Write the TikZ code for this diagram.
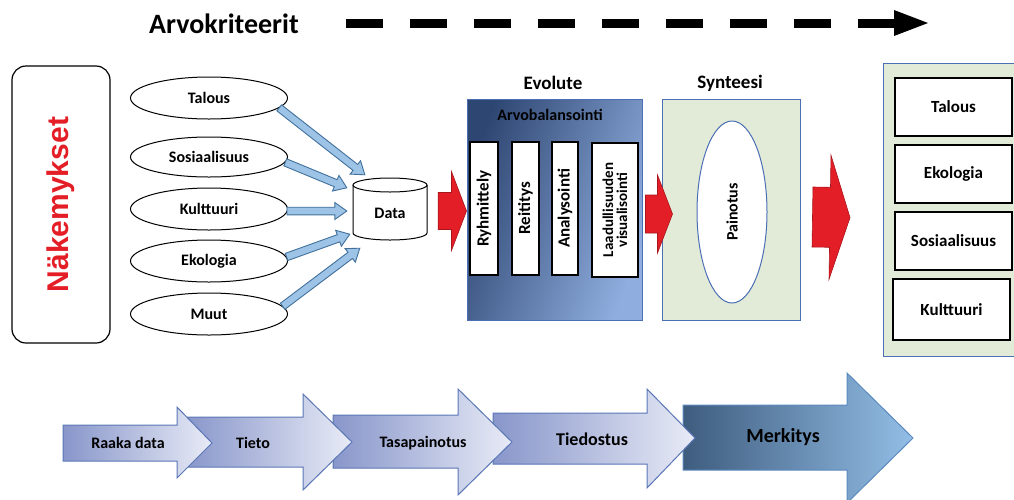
\documentclass[tikz,border=0pt]{standalone}
\usepackage{fontspec}
\setmainfont{Carlito}
\newfontfamily\arialfam{Liberation Sans}
\usetikzlibrary{shapes.geometric,calc,arrows.meta}
\definecolor{redc}{HTML}{E41E26}
\definecolor{redd}{HTML}{A8151B}
\definecolor{lblue}{HTML}{9DC3E6}
\definecolor{dblue}{HTML}{41719C}
\definecolor{frame}{HTML}{4A6FB5}
\definecolor{lgreen}{HTML}{E2EBD7}
\definecolor{evodark}{HTML}{2E4672}
\definecolor{evolight}{HTML}{8FAEDF}
\definecolor{chl}{HTML}{8896CA}
\definecolor{chr}{HTML}{E8EBF6}
\definecolor{chb}{HTML}{5A76B5}
\definecolor{mkl}{HTML}{3E5C7E}
\definecolor{mkr}{HTML}{93BEE6}
\definecolor{mkb}{HTML}{5B8AC0}
\newcommand{\fsz}[1]{\fontsize{#1}{#1}\selectfont}
\newcommand{\blockarr}[6]{%
  \coordinate (bh) at ($(#2)!#5!(#1)$);
  \draw[#6] ($(#1)!#3!90:(#2)$) -- ($(bh)!#3!90:(#2)$) -- ($(bh)!#4!90:(#2)$) -- (#2)
    -- ($(bh)!#4!-90:(#2)$) -- ($(bh)!#3!-90:(#2)$) -- ($(#1)!#3!-90:(#2)$) -- cycle;}
\tikzset{
  lbl/.style={font=\bfseries\fsz{16}},
  ell/.style={ellipse, draw, line width=1pt, minimum width=157pt, minimum height=42pt, inner sep=0pt, lbl},
  inbox/.style={draw, line width=1.3pt, fill=white, rotate=90, minimum height=28pt, minimum width=133pt, inner sep=1pt, font=\bfseries\fsz{17}, align=center},
  rbox/.style={draw, line width=1.2pt, fill=white, minimum width=117pt, minimum height=58pt, font=\bfseries\fsz{17}},
  hdr/.style={font=\bfseries\fsz{19}},
  bluearr/.style={fill=lblue, draw=dblue, line width=0.9pt},
  redarr/.style={fill=redc, draw=redd, line width=0.6pt},
  chev/.style={left color=chl, right color=chr, draw=chb, line width=1pt},
  chevtxt/.style={font=\bfseries\fsz{16}},
}
\begin{document}
\begin{tikzpicture}[x=1pt,y=-1pt]
\useasboundingbox (0,0) rectangle (1014,499);
\clip (0,0) rectangle (1014,499);

% top dashed arrow
\node[font=\bfseries\fsz{28}] (arvo) at (224,24) {Arvokriteerit};
\coordinate (ds) at (346,23);
\coordinate (de) at (896,23);
\coordinate (dt) at (928,23);
\draw[line width=9pt, dash pattern=on 37pt off 27pt] (ds) -- (de);
\fill ($(de)+(-2,-13)$) -- (dt) -- ($(de)+(-2,13)$) -- cycle;

% left box
\node[draw, line width=1.2pt, rounded corners=14pt, rotate=90, minimum width=277pt, minimum height=98pt,
      text=redc, font=\arialfam\bfseries\fsz{30}] (nak) at (61,204.5) {Näkemykset};

% ellipses
\node[ell] (talous) at (209,98) {Talous};
\node[ell, minimum height=40pt] (sos) at (209,157) {Sosiaalisuus};
\node[ell] (kult) at (209,209) {Kulttuuri};
\node[ell] (eko) at (209,261) {Ekologia};
\node[ell] (muut) at (209,314) {Muut};

% data cylinder
\node[minimum width=74pt, minimum height=62pt, inner sep=0pt] (data) at (390,209) {};
\draw[line width=1pt, fill=white] (353,185) -- (353,233)
   arc[start angle=180, end angle=360, x radius=37pt, y radius=7pt] -- (427,185);
\draw[line width=1pt, fill=white] (390,185) ellipse[x radius=37pt, y radius=7pt];
\node[font=\bfseries\fsz{16}] (datat) at (390,213) {Data};

% blue arrows
\coordinate (t1) at ($(data.north west)+(12,-3)$);
\coordinate (t2) at ($(data.north west)+(-6,10)$);
\coordinate (t3) at ($(data.west)+(-6,2)$);
\coordinate (s3) at ($(kult.east)+(-1,2)$);
\coordinate (t4) at ($(data.south west)+(-3,-6)$);
\coordinate (t5) at ($(data.south west)+(7,8)$);
\blockarr{talous.-8}{t1}{3.8pt}{8.5pt}{12pt}{bluearr}
\blockarr{sos.-4}{t2}{3.8pt}{8.5pt}{12pt}{bluearr}
\blockarr{s3}{t3}{3.8pt}{8.5pt}{12pt}{bluearr}
\blockarr{eko.3}{t4}{3.8pt}{8.5pt}{12pt}{bluearr}
\blockarr{muut.6}{t5}{3.8pt}{8.5pt}{12pt}{bluearr}

% Evolute
\node[draw=frame, line width=1pt, minimum width=175pt, minimum height=221pt, inner sep=0pt,
      left color=evodark, right color=evolight, shading angle=70] (evo) at (554.5,209.5) {};
\node[hdr] (evot) at (553,83) {Evolute};
\node[font=\bfseries\fsz{16}, text=black] (arvob) at (550,115) {Arvobalansointi};
\node[inbox] (ryh) at (484,208.5) {Ryhmittely};
\node[inbox, minimum height=27pt] (rei) at (525.5,208.5) {Reititys};
\node[inbox, minimum height=26pt] (ana) at (565,208.5) {Analysointi};
\node[inbox, minimum height=46pt, minimum width=134pt, font=\bfseries\fsz{15}] (laad) at (615,210) {Laadullisuuden\\[-1pt]visualisointi};

% Synteesi
\node[draw=frame, line width=1pt, fill=lgreen, minimum width=138pt, minimum height=221pt, inner sep=0pt] (syn) at (731,209.5) {};
\node[hdr] (synt) at (730,83) {Synteesi};
\node[ellipse, draw=frame, line width=1pt, fill=white, minimum width=70pt, minimum height=182pt, inner sep=0pt] (pain) at (732,212) {};
\node[rotate=90, font=\bfseries\fsz{16}] (paint) at (pain.center) {Painotus};

% Right box
\node[draw=frame, line width=1.2pt, fill=lgreen, minimum width=150pt, minimum height=293pt, inner sep=0pt, anchor=north west] (res) at (883,63) {};
\node[rbox] (rtal) at (953.5,107) {Talous};
\node[rbox] (reko) at (953.5,174) {Ekologia};
\node[rbox] (rsos) at (953.5,241) {Sosiaalisuus};
\node[rbox, minimum height=61pt] (rkul) at (951.5,309.5) {Kulttuuri};

% red arrows
\coordinate (r1a) at ($(data.east)+(11,2)$);
\coordinate (r1b) at ($(evo.west)+(0,1.5)$);
\coordinate (r2a) at ($(evo.east)+(3,4.5)$);
\coordinate (r2b) at ($(syn.west)+(11,4.5)$);
\coordinate (r3a) at ($(syn.east)+(12,7.5)$);
\coordinate (r3b) at ($(res.west)+(-33,7.5)$);
\blockarr{r1a}{r1b}{18.5pt}{39.5pt}{15pt}{redarr}
\blockarr{r2a}{r2b}{19pt}{39pt}{15pt}{redarr}
\blockarr{r3a}{r3b}{30pt}{62pt}{20pt}{redarr}

% bottom arrows (drawn back to front)
\draw[left color=mkl, right color=mkr, draw=mkb, line width=1pt] (683,405) -- (847,405) -- (847,373) -- (913,438) -- (847,503) -- (847,470) -- (683,470) -- cycle;
\node[font=\bfseries\fsz{20}, text=black] (merk) at (783,437) {Merkitys};
\draw[chev] (493,413) -- (647,413) -- (647,389) -- (695,438) -- (647,488) -- (647,464) -- (493,464) -- cycle;
\node[chevtxt, font=\bfseries\fsz{18}] (tied) at (592,439) {Tiedostus};
\draw[chev] (333,415) -- (458,415) -- (458,389) -- (512,442) -- (458,495) -- (458,468) -- (333,468) -- cycle;
\node[chevtxt] (tasa) at (423,443) {Tasapainotus};
\draw[chev] (185,417) -- (303,417) -- (303,394) -- (352,442) -- (303,490) -- (303,467) -- (185,467) -- cycle;
\node[chevtxt] (tieto) at (253,443) {Tieto};
\draw[chev] (63,425) -- (177,425) -- (177,407) -- (212,443) -- (177,478) -- (177,461) -- (63,461) -- cycle;
\node[chevtxt] (raaka) at (128,443) {Raaka data};
\end{tikzpicture}
\end{document}
